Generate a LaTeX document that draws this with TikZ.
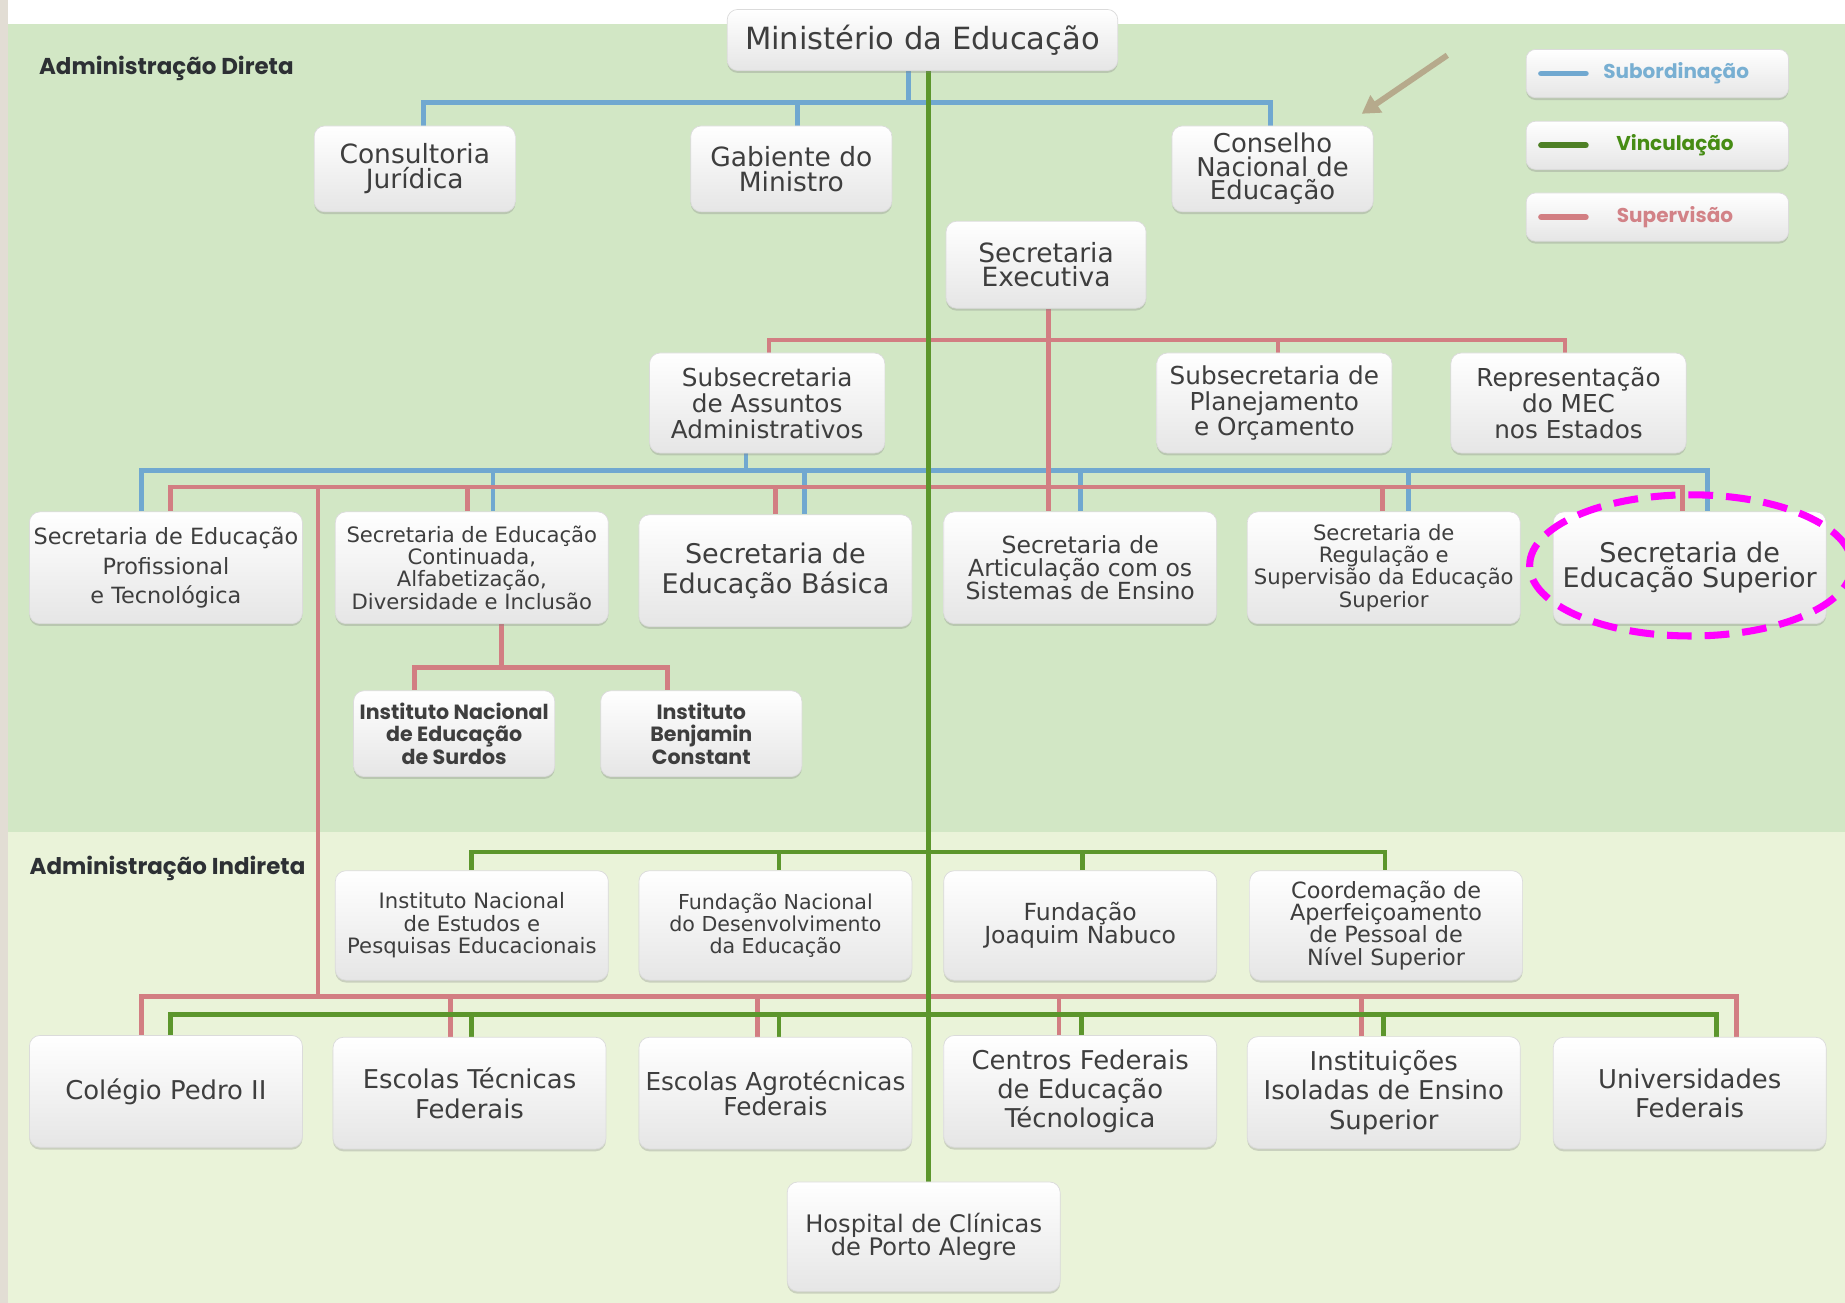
\documentclass[tikz,border=0pt]{standalone}
\usepackage{fontspec}
\setmainfont{DejaVu Sans}
\newfontfamily\rfont{Poppins}
\usetikzlibrary{shadows,arrows.meta,calc}
\definecolor{bgtop}{RGB}{210,231,197}
\definecolor{bgbot}{RGB}{234,243,217}
\definecolor{leftstrip}{RGB}{226,221,212}
\definecolor{subc}{RGB}{112,168,208}
\definecolor{vinc}{RGB}{92,150,44}
\definecolor{supc}{RGB}{210,126,130}
\definecolor{txt}{RGB}{62,62,62}
\definecolor{arrowc}{RGB}{182,170,140}
\definecolor{lgsub}{RGB}{120,175,210}
\definecolor{lgvin}{RGB}{70,140,20}
\definecolor{lgsup}{RGB}{210,130,135}
\definecolor{hilite}{RGB}{255,0,255}
\pgfdeclarelayer{bg}
\pgfdeclarelayer{lines}
\pgfsetlayers{bg,lines,main}
\begin{document}
\begin{tikzpicture}[x=1pt,y=-1pt,
  box/.style={rounded corners=9pt, draw=black!14, line width=0.6pt,
    top color=white, bottom color=black!10,
    drop shadow={shadow xshift=0pt,shadow yshift=-2pt,opacity=0.3,fill=black!50},
    align=center, text=txt, inner sep=0pt},
  wbox/.style={box, minimum width=232pt, minimum height=95pt},
  mbox/.style={box, minimum width=171pt, minimum height=73pt},
  sbox/.style={box, minimum width=200pt, minimum height=85pt},
  lgbox/.style={box, rounded corners=8pt, minimum width=223pt, minimum height=41pt},
  fs/.style 2 args={font=\fontsize{#1}{#2}\selectfont},
  rf/.style 2 args={font=\rfont\bfseries\fontsize{#1}{#2}\selectfont},
  sub/.style={draw=subc, line width=4pt},
  vin/.style={draw=vinc, line width=4pt},
  sup/.style={draw=supc, line width=4pt},
  lgline/.style={line width=5pt, line cap=round},
  lab/.style={rf={19.5}{24}, text={rgb,255:red,45;green,48;blue,52}, inner sep=0pt}
]
\clip (0,0) rectangle (1568,1107);
\useasboundingbox (0,0) rectangle (1568,1107);

\begin{pgfonlayer}{bg}
  \fill[white] (0,0) rectangle (1568,1107);
  \fill[bgtop] (7,20) rectangle (1568,707);
  \fill[bgbot] (7,707) rectangle (1568,1107);
  \fill[leftstrip] (0,0) rectangle (7,1107);
\end{pgfonlayer}

% labels
\node[lab, anchor=west] (ldir) at (33,58) {Administração Direta};
\node[lab, anchor=west] (lind) at (25,738) {Administração Indireta};

% top
\node[box, minimum width=332pt, minimum height=52pt, fs={26}{30}] (min) at (784,34) {Ministério da Educação};
\node[mbox, fs={22.5}{21}] (cons) at (352.5,143.5) {Consultoria\\Jurídica};
\node[mbox, fs={22.5}{21}] (gab) at (672.5,143.5) {Gabiente do\\Ministro};
\node[mbox, fs={22}{20}] (cne) at (1081.5,143.5) {Conselho\\Nacional de\\Educação};
\node[box, minimum width=170pt, minimum height=74pt, fs={22.5}{21}] (se) at (889,225) {Secretaria\\Executiva};

\node[sbox, fs={21}{22}] (saa) at (652,342.5) {Subsecretaria\\de Assuntos\\Administrativos};
\node[sbox, fs={21}{22}] (spo) at (1083,342.5) {Subsecretaria de\\Planejamento\\e Orçamento};
\node[sbox, fs={21}{22}] (rep) at (1333,342.5) {Representação\\do MEC\\nos Estados};

% secretarias
\node[wbox, fs={19}{25}] (setec) at (141,482.5) {Secretaria de Educação\\Profissional\\e Tecnológica};
\node[wbox, fs={18}{19}] (secadi) at (401,482.5) {Secretaria de Educação\\Continuada,\\Alfabetização,\\Diversidade e Inclusão};
\node[wbox, fs={23}{25}] (seb) at (659,485) {Secretaria de\\Educação Básica};
\node[wbox, fs={20}{19.5}] (sea) at (918,482.5) {Secretaria de\\Articulação com os\\Sistemas de Ensino};
\node[wbox, fs={18}{19}] (seres) at (1176,482.5) {Secretaria de\\Regulação e\\Supervisão da Educação\\Superior};
\node[wbox, fs={23}{21}] (sesu) at (1436,482.5) {Secretaria de\\Educação Superior};

\node[mbox, rf={17.5}{19}] (ines) at (386,623.5) {Instituto Nacional\\de Educação\\de Surdos};
\node[mbox, rf={17.5}{19}] (ibc) at (596,623.5) {Instituto\\Benjamin\\Constant};

% indireta
\node[wbox, minimum height=93pt, fs={18}{19}] (inep) at (401,786.5) {Instituto Nacional\\de Estudos e\\Pesquisas Educacionais};
\node[wbox, minimum height=93pt, fs={17.5}{19}] (fnde) at (659,786.5) {Fundação Nacional\\do Desenvolvimento\\da Educação};
\node[wbox, minimum height=93pt, fs={20}{20}] (fjn) at (918,786.5) {Fundação\\Joaquim Nabuco};
\node[wbox, minimum height=93pt, fs={19}{19}] (capes) at (1178,786.5) {Coordemação de\\Aperfeiçoamento\\de Pessoal de\\Nível Superior};

\node[wbox, fs={22}{25}] (cp2) at (141,927.5) {Colégio Pedro II};
\node[wbox, fs={22}{25}] (etf) at (399,929) {Escolas Técnicas\\Federais};
\node[wbox, fs={21}{20}] (eaf) at (659,929) {Escolas Agrotécnicas\\Federais};
\node[wbox, fs={22}{25}] (cefet) at (918,927.5) {Centros Federais\\de Educação\\Técnologica};
\node[wbox, fs={22}{25}] (iies) at (1176,928.5) {Instituições\\Isoladas de Ensino\\Superior};
\node[wbox, fs={22}{25}] (uf) at (1436,929) {Universidades\\Federais};
\node[wbox, minimum height=93pt, fs={20.5}{20}] (hcpa) at (785,1051) {Hospital de Clínicas\\de Porto Alegre};

% legend
\node[lgbox] (lg1) at (1408.5,62.5) {};
\node[lgbox] (lg2) at (1408.5,123.5) {};
\node[lgbox] (lg3) at (1408.5,184.5) {};
\draw[lgline, draw=subc] ([xshift=13]lg1.west) -- ([xshift=51]lg1.west);
\draw[lgline, draw=vinc!85!black] ([xshift=13]lg2.west) -- ([xshift=51]lg2.west);
\draw[lgline, draw=supc] ([xshift=13]lg3.west) -- ([xshift=51]lg3.west);
\node[rf={17}{20}, text=lgsub] (lg1t) at ([xshift=16]lg1.center) {Subordinação};
\node[rf={17}{20}, text=lgvin] (lg2t) at ([xshift=15]lg2.center) {Vinculação};
\node[rf={17}{20}, text=lgsup] (lg3t) at ([xshift=15]lg3.center) {Supervisão};

% bus levels
\coordinate (bA) at (0,87);
\coordinate (bB) at (0,289);
\coordinate (bC) at (0,400);
\coordinate (bD) at (0,414);
\coordinate (bE) at (0,847);
\coordinate (bF) at (0,724);
\coordinate (bG) at (0,862);
\coordinate (bH) at (0,567);

\begin{pgfonlayer}{lines}
  % subordinação
  \draw[sub] ([xshift=-12]min.south) -- ([xshift=-12]min.south |- bA);
  \draw[sub] ([xshift=7.5]cons.north) |- ([xshift=-1.5]cne.north |- bA) -- ([xshift=-1.5]cne.north);
  \draw[sub] ([xshift=5.5]gab.north) -- ([xshift=5.5]gab.north |- bA);

  \draw[sub] ([xshift=-18]saa.south) -- ([xshift=-18]saa.south |- bC);
  \draw[sub] ([xshift=-21]setec.north) |- ([xshift=15]sesu.north |- bC) -- ([xshift=15]sesu.north);
  \draw[sub] ([xshift=18]secadi.north) -- ([xshift=18]secadi.north |- bC);
  \draw[sub] ([xshift=25]seb.north) -- ([xshift=25]seb.north |- bC);
  \draw[sub] (sea.north) -- (sea.north |- bC);
  \draw[sub] ([xshift=21]seres.north) -- ([xshift=21]seres.north |- bC);

  % supervisão
  \draw[sup] ([xshift=1.5]saa.north) |- ([xshift=-3]rep.north |- bB) -- ([xshift=-3]rep.north);
  \draw[sup] ([xshift=3]spo.north) -- ([xshift=3]spo.north |- bB);
  \draw[sup] ([xshift=2]se.south) -- ([xshift=2]se.south |- sea.north);

  \draw[sup] ([xshift=4]setec.north) |- ([xshift=-6]sesu.north |- bD) -- ([xshift=-6]sesu.north);
  \draw[sup] ([xshift=-3.5]secadi.north) -- ([xshift=-3.5]secadi.north |- bD);
  \draw[sup] (seb.north) -- (seb.north |- bD);
  \draw[sup] ([xshift=-1]seres.north) -- ([xshift=-1]seres.north |- bD);
  \draw[sup] ([xshift=13]setec.north east |- bD) -- ([xshift=13]setec.north east |- bE);

  \draw[sup] ([xshift=-21]cp2.north) |- ([xshift=40]uf.north |- bE) -- ([xshift=40]uf.north);
  \draw[sup] ([xshift=-16]etf.north) -- ([xshift=-16]etf.north |- bE);
  \draw[sup] ([xshift=-15.5]eaf.north) -- ([xshift=-15.5]eaf.north |- bE);
  \draw[sup] ([xshift=-18]cefet.north) -- ([xshift=-18]cefet.north |- bE);
  \draw[sup] ([xshift=-19]iies.north) -- ([xshift=-19]iies.north |- bE);

  \draw[sup] ([xshift=25]secadi.south) -- ([xshift=25]secadi.south |- bH);
  \draw[sup] ([xshift=-34]ines.north) |- ([xshift=-29]ibc.north |- bH) -- ([xshift=-29]ibc.north);

  % vinculação
  \draw[vin] (inep.north) |- ([xshift=-1]capes.north |- bF) -- ([xshift=-1]capes.north);
  \draw[vin] ([xshift=3]fnde.north) -- ([xshift=3]fnde.north |- bF);
  \draw[vin] ([xshift=2]fjn.north) -- ([xshift=2]fjn.north |- bF);

  \draw[vin] ([xshift=4]cp2.north) |- ([xshift=23]uf.north |- bG) -- ([xshift=23]uf.north);
  \draw[vin] ([xshift=2]etf.north) -- ([xshift=2]etf.north |- bG);
  \draw[vin] ([xshift=3]eaf.north) -- ([xshift=3]eaf.north |- bG);
  \draw[vin] ([xshift=1]cefet.north) -- ([xshift=1]cefet.north |- bG);
  \draw[vin] (iies.north) -- (iies.north |- bG);

  \draw[vin] ([xshift=5]min.south) -- ([xshift=4]hcpa.north);
\end{pgfonlayer}

% annotation arrow
\coordinate (atail) at (1230,47);
\draw[arrowc, line width=5pt, -{Triangle[width=17pt,length=15pt]}] (atail) -- ([xshift=-10pt,yshift=10pt]cne.north east);

% highlight ellipse
\draw[hilite, line width=6pt, dash pattern=on 21pt off 11pt] ([xshift=1pt,yshift=2pt]sesu.center) ellipse [x radius=137, y radius=60];
\end{tikzpicture}
\end{document}
